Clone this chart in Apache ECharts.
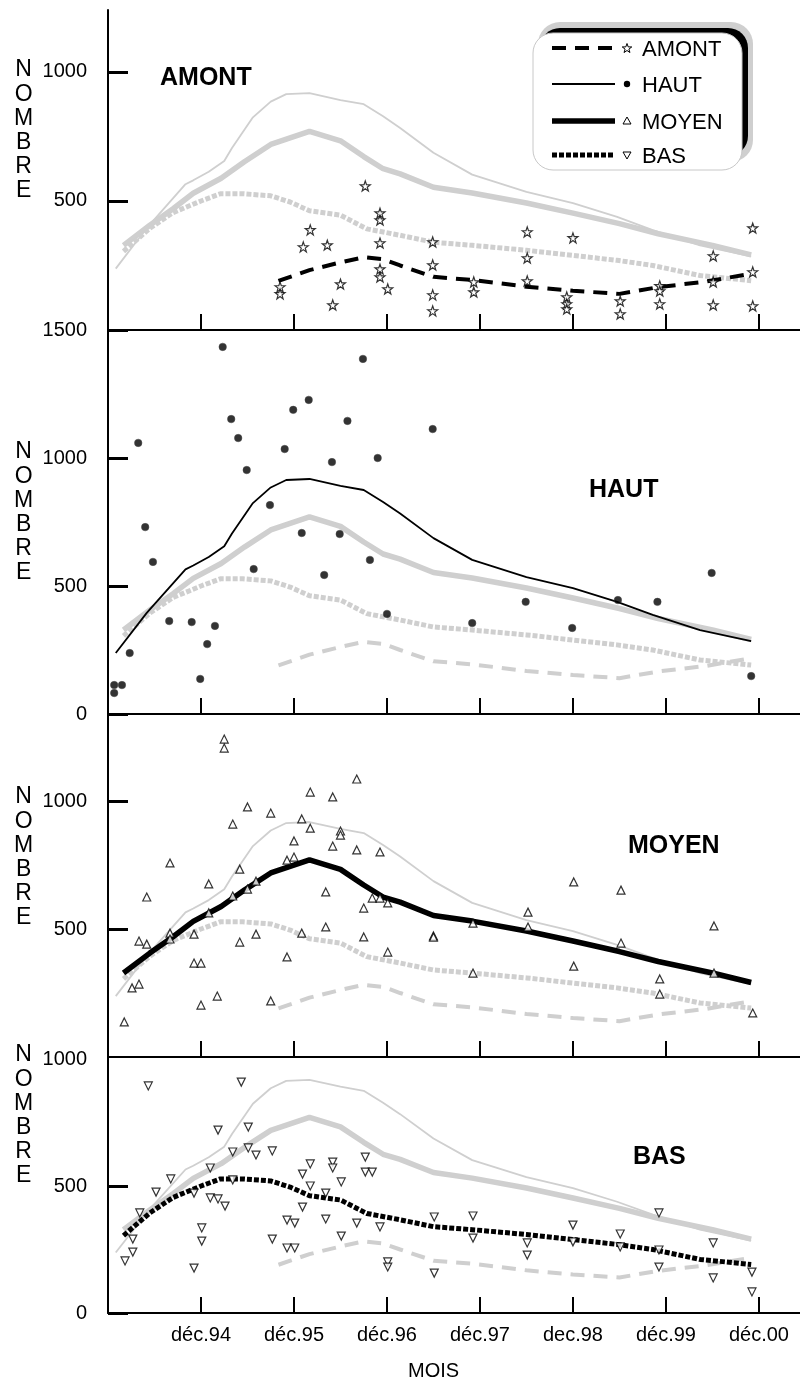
<!DOCTYPE html>
<html lang="fr">
<head>
    <meta charset="UTF-8">
    <title>NOMBRE par MOIS - AMONT / HAUT / MOYEN / BAS</title>
    <script src="https://cdn.jsdelivr.net/npm/echarts/dist/echarts.min.js"></script>
    <style>
        body { margin: 0; padding: 0; background: #fff; }
        #chart { width: 800px; height: 1387px; }
    </style>
</head>
<body>
<div id="chart"></div>
<script>
// x = mois depuis déc. 1993
const tickMonths = [12, 24, 36, 48, 60, 72, 84];
const tickLabels = ['déc.94', 'déc.95', 'déc.96', 'déc.97', 'dec.98', 'déc.99', 'déc.00'];
const groups = ['AMONT', 'HAUT', 'MOYEN', 'BAS'];

// courbes lissées
const amontLine = [[22,190],[26,232],[30,262],[33,282],[35.5,274],[37.7,250],[42,206],[47,194],[54,168],[60,152],[66,140],[71,166],[77,187],[83,218]];
const hautLine = [[1,238],[5,395],[10,565],[11,580],[13,613],[15,655],[16,705],[18.7,824],[21,885],[23,914],[26,918],[30,891],[33,875],[35.5,828],[37.7,783],[42,687],[47,602],[54,535],[60,492],[65.7,438],[70.3,387],[76.4,328],[83,285]];
const moyenLine = [[2,328],[5.4,406],[8.4,470],[11,530],[14.6,588],[17.6,652],[21,719],[26,770],[30,733],[33,672],[35.5,625],[37.7,605],[42,553],[47,531],[54,492],[60,453],[66,412],[71,373],[78,328],[83,291]];
const basLine = [[2,305],[5.4,394],[8.4,455],[12,500],[14.5,528],[17.4,528],[21,520],[23.5,496],[26,462],[30,445],[33.4,392],[37.7,367],[42,340],[47,328],[54,309],[60,289],[65.7,270],[70.3,250],[76.4,211],[83,191]];

// observations
const amontPts = [[22.2,167],[22.2,140],[25.2,322],[26.1,388],[28.3,329],[29,97],[30,178],[33.2,558],[35.1,453],[35.1,426],[35.1,337],[35.1,236],[35.1,205],[36.1,159],[41.9,341],[41.9,252],[41.9,136],[41.9,74],[47.2,186],[47.2,147],[54.1,380],[54.1,279],[54.1,190],[60,357],[59.2,128],[59.2,101],[59.2,81],[66.1,112],[66.1,62],[71.2,171],[71.2,151],[71.2,101],[78.1,287],[78.1,186],[78.1,97],[83.2,395],[83.2,225],[83.2,93]];
const hautPts = [[0.8,113],[1.8,113],[0.8,82],[2.8,238],[3.9,1059],[4.8,730],[5.8,594],[7.9,363],[10.8,359],[11.9,137],[12.8,273],[13.8,344],[14.8,1434],[15.9,1152],[16.8,1078],[17.9,953],[18.8,566],[20.9,816],[22.8,1035],[23.9,1188],[25,707],[25.9,1227],[27.9,543],[28.9,984],[29.9,703],[30.9,1145],[32.9,1387],[33.8,602],[34.8,1000],[36,391],[41.9,1113],[47,355],[53.9,438],[59.9,336],[65.8,445],[70.9,438],[77.9,551],[83,148]];
const moyenPts = [[2.1,137],[3.1,270],[4,285],[4,453],[5,441],[5,625],[8,758],[8,484],[8,461],[11.1,480],[11.1,367],[12,367],[12,203],[13,676],[13,563],[14.1,238],[15,1242],[15,1207],[16.1,910],[16.1,629],[17,734],[17,449],[18,977],[18,656],[19.1,687],[19.1,480],[21,953],[21,219],[23.1,769],[24,781],[23.1,391],[24,844],[25,930],[25,484],[26.1,1035],[26.1,894],[28.1,645],[28.1,508],[29,1016],[29,824],[30,883],[30,867],[32.1,1086],[32.1,809],[33,582],[33,469],[34.1,621],[35.1,621],[35.1,801],[36.1,602],[36.1,410],[42,473],[42,468],[47.1,523],[47.1,328],[54.2,566],[54.2,508],[60.1,684],[60.1,355],[66.2,652],[66.2,445],[71.2,305],[71.2,246],[78.2,512],[78.2,328],[83.2,172]];
const basPts = [[2.2,205],[3.2,291],[3.2,240],[4.1,394],[5.2,894],[6.2,476],[8.1,528],[11.1,177],[11.1,472],[12.1,335],[12.1,283],[13.2,571],[13.2,453],[14.2,449],[14.2,720],[15.1,421],[16.1,634],[16.1,524],[17.2,909],[18.1,732],[18.1,650],[19.1,622],[21.2,638],[21.2,291],[23.1,366],[24.1,354],[23.1,256],[24.1,256],[25.1,547],[25.1,417],[26.1,587],[26.1,500],[28.1,472],[28.1,370],[29,594],[29,571],[30.1,516],[30.1,303],[32.1,354],[33.2,614],[33.2,555],[34.1,555],[35.1,339],[36.1,201],[36.1,181],[42.1,378],[42.1,157],[47.1,382],[47.1,295],[54.1,276],[54.1,228],[60,346],[60,280],[66.1,311],[66.1,260],[71.1,394],[71.1,248],[71.1,181],[78.1,276],[78.1,138],[83.1,161],[83.1,83]];

const lines = [amontLine, hautLine, moyenLine, basLine];
const points = [amontPts, hautPts, moyenPts, basPts];

const FONT = 'Liberation Sans, Arial, sans-serif';
const GREY = '#cfcfcf';
const STAR = 'path://M50,2L61.8,35.8L97.6,36.5L69,58.2L79.4,92.5L50,72L20.6,92.5L31,58.2L2.4,36.5L38.2,35.8Z';

// style de chaque groupe
const lineStyles = [
    { width: 4, type: [14, 9] },
    { width: 1.8, type: 'solid' },
    { width: 5.5, type: 'solid' },
    { width: 5, type: [5, 2] }
];
const symbols = [
    { symbol: STAR, symbolSize: 10, symbolRotate: 0 },
    { symbol: 'circle', symbolSize: 7.5, symbolRotate: 0 },
    { symbol: 'triangle', symbolSize: 8, symbolRotate: 0 },
    { symbol: 'triangle', symbolSize: 8, symbolRotate: 180 }
];

// panneaux : haut de grille, hauteur, max y, graduations y
const panels = [
    { top: 10, height: 320, max: 1240, yTicks: [500, 1000], yLabels: [500, 1000], title: [160, 80] },
    { top: 330, height: 384, max: 1500, yTicks: [0, 500, 1000, 1500], yLabels: [0, 500, 1000, 1500], title: [589, 492] },
    { top: 714, height: 343, max: 1340, yTicks: [500, 1000], yLabels: [500, 1000], title: [628, 848] },
    { top: 1057, height: 256, max: 1008, yTicks: [0, 500], yLabels: [0, 500, 1000], title: [633, 1159] }
];
const nombreTops = [58, 440, 785, 1043];

const chart = echarts.init(document.getElementById('chart'));

const grid = [], xAxis = [], yAxis = [], series = [];
panels.forEach((p, i) => {
    grid.push({ left: 108, right: 0, top: p.top, height: p.height });
    xAxis.push({
        type: 'value', gridIndex: i, min: 0, max: 89.3,
        axisLine: { show: true, onZero: false, lineStyle: { color: '#000', width: 2 } },
        axisTick: { show: true, inside: true, length: 16, customValues: tickMonths, lineStyle: { color: '#000', width: 2 } },
        axisLabel: {
            show: i === 3, customValues: tickMonths, margin: 12,
            fontFamily: FONT, fontSize: 20, color: '#000',
            formatter: v => tickLabels[Math.round(v / 12) - 1] || ''
        },
        splitLine: { show: false }
    });
    yAxis.push({
        type: 'value', gridIndex: i, min: 0, max: p.max,
        axisLine: { show: true, lineStyle: { color: '#000', width: 2 } },
        axisTick: { show: true, inside: true, length: 20, customValues: p.yTicks, lineStyle: { color: '#000', width: 3 } },
        axisLabel: {
            customValues: p.yLabels, margin: 21, fontFamily: FONT, fontSize: 20, color: '#000',
            formatter: v => String(v)
        },
        splitLine: { show: false }
    });
    groups.forEach((g, k) => {
        const own = k === i;
        series.push({
            name: g, type: 'line', xAxisIndex: i, yAxisIndex: i,
            data: lines[k], showSymbol: false, silent: true, z: own ? 3 : 2,
            lineStyle: { color: own ? '#000' : GREY, width: lineStyles[k].width, type: lineStyles[k].type, cap: 'butt' }
        });
    });
    series.push({
        name: groups[i] + ' obs', type: 'scatter', xAxisIndex: i, yAxisIndex: i,
        data: points[i], z: 4,
        symbol: symbols[i].symbol, symbolSize: symbols[i].symbolSize, symbolRotate: symbols[i].symbolRotate,
        itemStyle: i === 1
            ? { color: '#000', borderColor: '#444', borderWidth: 0.6 }
            : { color: '#fff', borderColor: '#000', borderWidth: 1.2 }
    });
});

// textes et légende
const graphic = [];
panels.forEach((p, i) => {
    graphic.push({
        type: 'text', left: p.title[0], top: p.title[1] - 14,
        style: { text: groups[i], font: 'bold 25px ' + FONT, fill: '#000' }
    });
    graphic.push({
        type: 'text', left: 14, top: nombreTops[i],
        style: { text: 'N\nO\nM\nB\nR\nE', font: '23px ' + FONT, fill: '#000', lineHeight: 24.2, textAlign: 'center' }
    });
});
graphic.push({
    type: 'text', left: 408, top: 1361,
    style: { text: 'MOIS', font: '20px ' + FONT, fill: '#000' }
});

// cadre de la légende
graphic.push({ type: 'rect', shape: { x: 538, y: 22, width: 215, height: 140, r: 22 }, style: { fill: '#cfcfcf' }, z: 10 });
graphic.push({ type: 'rect', shape: { x: 540, y: 28, width: 208, height: 128, r: 20 }, style: { fill: '#000' }, z: 11 });
graphic.push({ type: 'rect', shape: { x: 533, y: 33, width: 209, height: 137, r: 20 }, style: { fill: '#fff', stroke: '#c8c8c8', lineWidth: 1 }, z: 12 });

const legendRows = [48, 84, 121, 155];
const mx = 627;
groups.forEach((g, k) => {
    const y = legendRows[k];
    graphic.push({
        type: 'line', z: 13,
        shape: { x1: 552, y1: y, x2: 615, y2: y },
        style: { stroke: '#000', lineWidth: lineStyles[k].width, lineDash: Array.isArray(lineStyles[k].type) ? lineStyles[k].type : null, lineCap: 'butt' }
    });
    graphic.push({
        type: 'text', z: 13, left: 642, top: y - 9,
        style: { text: g, font: '22px ' + FONT, fill: '#000' }
    });
});
// symboles de la légende
const starPts = [];
for (let j = 0; j < 10; j++) {
    const a = -Math.PI / 2 + j * Math.PI / 5;
    const r = j % 2 === 0 ? 5 : 2;
    starPts.push([mx + r * Math.cos(a), legendRows[0] + 0.5 + r * Math.sin(a)]);
}
graphic.push({ type: 'polygon', z: 13, shape: { points: starPts }, style: { fill: '#fff', stroke: '#000', lineWidth: 1 } });
graphic.push({ type: 'circle', z: 13, shape: { cx: mx, cy: legendRows[1], r: 3.2 }, style: { fill: '#000' } });
graphic.push({ type: 'polygon', z: 13, shape: { points: [[mx, legendRows[2] - 4], [mx + 4, legendRows[2] + 3], [mx - 4, legendRows[2] + 3]] }, style: { fill: '#fff', stroke: '#000', lineWidth: 1 } });
graphic.push({ type: 'polygon', z: 13, shape: { points: [[mx, legendRows[3] + 4], [mx + 4, legendRows[3] - 3], [mx - 4, legendRows[3] - 3]] }, style: { fill: '#fff', stroke: '#000', lineWidth: 1 } });

chart.setOption({
    animation: false,
    backgroundColor: '#fff',
    textStyle: { fontFamily: FONT },
    grid, xAxis, yAxis, series, graphic
});
</script>
</body>
</html>
